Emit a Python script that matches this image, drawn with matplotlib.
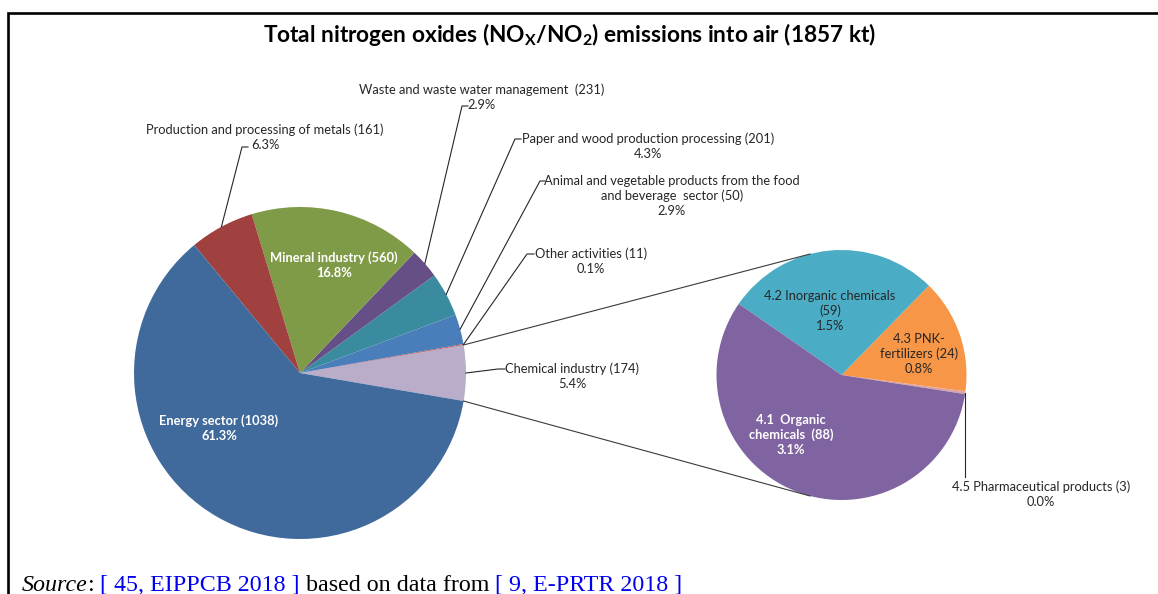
import matplotlib.pyplot as plt
import numpy as np

plt.rcParams['font.family'] = ['Lato', 'DejaVu Sans']
plt.rcParams['mathtext.fontset'] = 'custom'
plt.rcParams['mathtext.rm'] = 'Lato'
plt.rcParams['mathtext.bf'] = 'Lato:bold'

# main pie: counter-clockwise from the split-off "Chemical industry" slice
main_names = ["Chemical industry", "Other activities",
              "Animal and vegetable products from the food\nand beverage  sector",
              "Paper and wood production processing",
              "Waste and waste water management ", "Mineral industry",
              "Production and processing of metals", "Energy sector"]
main_kt = [174, 11, 50, 201, 231, 560, 161, 1038]
main_pct = [5.4, 0.1, 2.9, 4.3, 2.9, 16.8, 6.3, 61.3]
main_colors = ["#B9ADCA", "#C0504D", "#4A7EBB", "#3A8BA0", "#664F86",
               "#7F9B48", "#A0413F", "#416A9C"]

# secondary pie: break-down of chemical industry
sub_names = ["4.5 Pharmaceutical products", "4.3 PNK-\nfertilizers",
             "4.2 Inorganic chemicals\n", "4.1  Organic\nchemicals "]
sub_kt = [3, 24, 59, 88]
sub_pct = [0.02, 0.8, 1.5, 3.1]
sub_colors = ["#DDA3A6", "#F79646", "#4BACC6", "#8064A2"]

W, H = 1158, 594


def px(x, y):
    # image pixel coords (y down) -> data coords (y up)
    return x, H - y


def label_text(name, kt, pct):
    return f"{name} ({kt})".replace("\n (", "\n(") + f"\n{pct:.1f}%"


fig = plt.figure(figsize=(W / 100, H / 100), dpi=100)
ax = fig.add_axes([0, 0, 1, 1])

main_c, main_r = px(300, 373), 166
sub_c, sub_r = px(841.5, 375), 125

main_w, _ = ax.pie(main_pct, colors=main_colors, center=main_c, radius=main_r,
                   startangle=-main_pct[0] * 3.6 / 2, counterclock=True,
                   wedgeprops=dict(linewidth=0))
sub_w, _ = ax.pie(sub_pct, colors=sub_colors, center=sub_c, radius=sub_r,
                  startangle=-8.8, counterclock=True,
                  wedgeprops=dict(linewidth=0))


def rim(w):
    t = np.deg2rad((w.theta1 + w.theta2) / 2)
    return w.center[0] + w.r * np.cos(t), w.center[1] + w.r * np.sin(t)


# connector lines between chemical slice and the second pie
chem = main_w[0]
for a_main, a_sub in [(chem.theta2, 104.6), (chem.theta1, -104.6)]:
    p0 = (main_c[0] + main_r * np.cos(np.deg2rad(a_main)),
          main_c[1] + main_r * np.sin(np.deg2rad(a_main)))
    p1 = (sub_c[0] + sub_r * np.cos(np.deg2rad(a_sub)),
          sub_c[1] + sub_r * np.sin(np.deg2rad(a_sub)))
    ax.plot([p0[0], p1[0]], [p0[1], p1[1]], color="#3a3a3a", lw=0.8)

txt_col = "#262626"
lab_fs = 9.3
lab_ls = 1.28

# outside labels: (wedge, elbow, text-end, text centre)
outside = [
    (main_w[0], (498, 369), (505, 369), (572, 376)),
    (main_w[1], (527, 254), (534, 254), (591, 261)),
    (main_w[2], (540, 181), (545, 181), (672, 196)),
    (main_w[3], (515, 139), (521, 139), (648, 146)),
    (main_w[4], (462, 106), (468, 106), (482, 97)),
    (main_w[6], (242, 147), (248, 147), (265, 137)),
]
for i, (w, elbow, end, centre) in zip([0, 1, 2, 3, 4, 6], outside):
    x0, y0 = rim(w)
    ex, ey = px(*elbow)
    tx, ty = px(*end)
    ax.plot([x0, ex, tx], [y0, ey, ty], color=txt_col, lw=0.8)
    ax.text(*px(*centre), label_text(main_names[i], main_kt[i], main_pct[i]),
            ha="center", va="center", fontsize=lab_fs, color=txt_col,
            linespacing=lab_ls)

# pharmaceutical label below the second pie
x0, y0 = rim(sub_w[0])
ax.plot([x0, x0], [y0, px(0, 477)[1]], color=txt_col, lw=0.8)
ax.text(*px(1041, 494), label_text(sub_names[0], sub_kt[0], sub_pct[0]),
        ha="center", va="center", fontsize=lab_fs, color=txt_col,
        linespacing=lab_ls)

# labels inside slices
inside = [
    (main_names[7], main_kt[7], main_pct[7], (219, 428), "white", "bold"),
    (main_names[5], main_kt[5], main_pct[5], (334, 265), "white", "bold"),
    (sub_names[2], sub_kt[2], sub_pct[2], (830, 311), txt_col, "normal"),
    (sub_names[1], sub_kt[1], sub_pct[1], (919, 354), txt_col, "normal"),
    (sub_names[3], sub_kt[3], sub_pct[3], (791, 435), "white", "bold"),
]
for name, kt, pct, centre, col, wt in inside:
    ax.text(*px(*centre), label_text(name, kt, pct), ha="center", va="center",
            fontsize=lab_fs, color=col, fontweight=wt, linespacing=lab_ls)

# title
ax.text(*px(569, 34),
        r"Total nitrogen oxides (NO$_{\mathbf{X}}$/NO$_{\mathbf{2}}$) emissions into air (1857 kt)",
        ha="center", va="center", fontsize=16.3, fontweight="bold", color="black")

# frame lines (left and top only)
ax.plot([8, 8, W], [0, H - 13, H - 13], color="black", lw=1.9,
        solid_joinstyle="miter", clip_on=False)

ax.set_xlim(0, W)
ax.set_ylim(0, H)
ax.set_aspect("auto")
ax.axis("off")

# source line, pieced together with different colours
fig.canvas.draw()
renderer = fig.canvas.get_renderer()
parts = [("Source", "black", "italic"), (": ", "black", "normal"),
         ("[ 45, EIPPCB 2018 ]", "#0000EE", "normal"),
         (" based on data from ", "black", "normal"),
         ("[ 9, E-PRTR 2018 ]", "#0000EE", "normal")]
x = 22
for s, col, style in parts:
    t = ax.text(x, 3, s, color=col, fontstyle=style, fontsize=17.3,
                family="Liberation Serif", va="baseline", ha="left")
    x = t.get_window_extent(renderer).x1

fig.savefig("out.png", dpi=100)
